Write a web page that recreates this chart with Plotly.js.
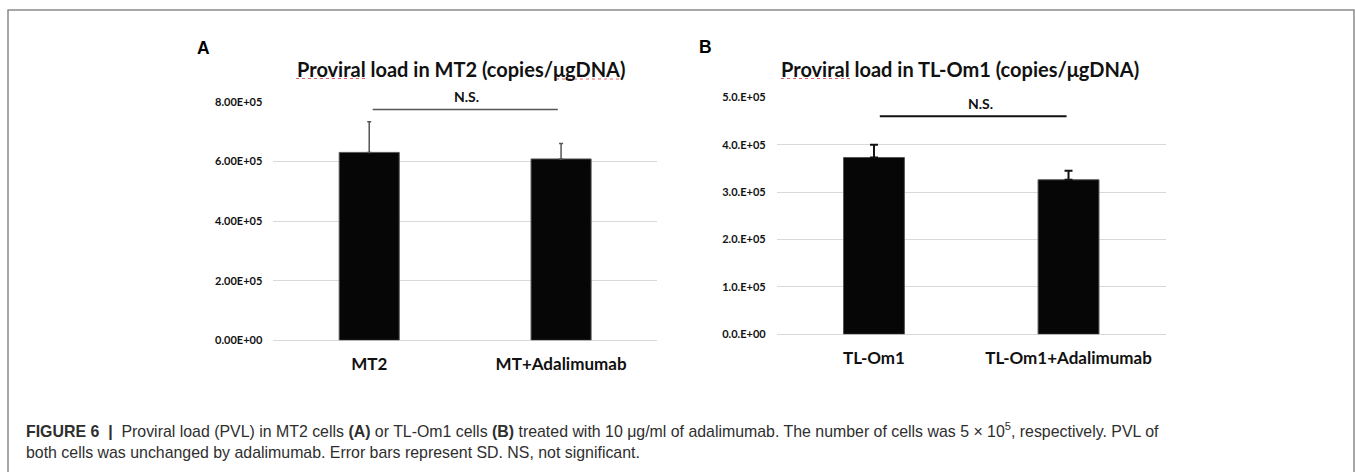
<!DOCTYPE html>
<html>
<head>
<meta charset="utf-8">
<script src="https://cdn.plot.ly/plotly-3.0.1.min.js"></script>
<style>html,body{margin:0;padding:0;background:#fff;}#chart{width:1355px;height:472px;}</style>
</head>
<body>
<div id="chart"></div>
<script>
// ---- data ----
const catsA = ['MT2', 'MT+Adalimumab'];
const pvlA = [6.30e5, 6.08e5];
const sdA = [1.03e5, 0.52e5];
const tickValsA = [0, 2e5, 4e5, 6e5, 8e5];
const tickTextA = ['0.00E+00', '2.00E+05', '4.00E+05', '6.00E+05', '8.00E+05'];

const catsB = ['TL-Om1', 'TL-Om1+Adalimumab'];
const pvlB = [3.73e5, 3.26e5];
const sdB = [0.27e5, 0.19e5];
const tickValsB = [0, 1e5, 2e5, 3e5, 4e5, 5e5];
const tickTextB = ['0.0.E+00', '1.0.E+05', '2.0.E+05', '3.0.E+05', '4.0.E+05', '5.0.E+05'];

const titleA = 'Proviral load in MT2 (copies/μgDNA)';
const titleB = 'Proviral load in TL-Om1 (copies/μgDNA)';
const sigLabel = 'N.S.';
const caption1 = '<b>FIGURE 6</b>  <b>|</b>  Proviral load (PVL) in MT2 cells <b>(A)</b> or TL-Om1 cells <b>(B)</b> treated with 10 μg/ml of adalimumab. The number of cells was 5 × 10<sup>5</sup>, respectively. PVL of';
const caption2 = 'both cells was unchanged by adalimumab. Error bars represent SD. NS, not significant.';

// ---- layout helpers ----
const W = 1355, H = 472;
const px = v => v / W;
const py = v => (H - v) / H;
const FONT = 'Lato, "Open Sans", sans-serif';

const traces = [
  {
    type: 'bar', x: catsA, y: pvlA, xaxis: 'x', yaxis: 'y',
    marker: {color: '#060606', line: {color: '#555', width: 1}},
    error_y: {type: 'data', array: sdA, arrayminus: [0, 0], symmetric: false, color: '#555', thickness: 1.5, width: 2},
    hoverinfo: 'skip', showlegend: false
  },
  {
    type: 'bar', x: catsB, y: pvlB, xaxis: 'x2', yaxis: 'y2',
    marker: {color: '#060606', line: {color: '#555', width: 1}},
    error_y: {type: 'data', array: sdB, arrayminus: [0, 0], symmetric: false, color: '#111', thickness: 2, width: 4},
    hoverinfo: 'skip', showlegend: false
  }
];

const xCommon = {
  type: 'category', range: [-0.5, 1.5], showgrid: false, zeroline: false, showline: false,
  ticks: '', ticklabelstandoff: 12,
  tickfont: {family: FONT, size: 17, weight: 'bold', color: '#111'}
};
const yCommon = {
  showgrid: true, gridcolor: '#d9d9d9', gridwidth: 1,
  zeroline: true, zerolinecolor: '#d9d9d9', zerolinewidth: 1.5, showline: false,
  ticks: '', ticklabelstandoff: 10,
  tickfont: {family: FONT, size: 11, weight: 'bold', color: '#111'}
};

function note(x, y, text, font, xanchor) {
  return {xref: 'paper', yref: 'paper', x: px(x), y: py(y), xanchor: xanchor || 'center', yanchor: 'middle',
          text: text, showarrow: false, font: font};
}

const titleFont = {family: FONT, size: 20, color: '#111'};
const sigFont = {family: FONT, size: 14, color: '#111'};
const panelFont = {family: 'Liberation Sans, Arial', size: 17.5, color: '#000'};
const capFont = {family: 'Liberation Sans, Arial', size: 15.9, color: '#2e2e2e'};

const layout = {
  width: W, height: H,
  margin: {l: 0, r: 0, t: 0, b: 0},
  paper_bgcolor: '#fff', plot_bgcolor: 'rgba(0,0,0,0)',
  bargap: 0.687,
  xaxis: Object.assign({}, xCommon, {domain: [px(273.3), px(657)], anchor: 'y'}),
  yaxis: Object.assign({}, yCommon, {domain: [py(340.3), py(101.7)], range: [0, 8e5], tickvals: tickValsA, ticktext: tickTextA, anchor: 'x'}),
  xaxis2: Object.assign({}, xCommon, {domain: [px(776.7), px(1165.8)], anchor: 'y2'}),
  yaxis2: Object.assign({}, yCommon, {domain: [py(334.3), py(97.3)], range: [0, 5e5], tickvals: tickValsB, ticktext: tickTextB, anchor: 'x2'}),
  shapes: [
    // figure frame
    {type: 'rect', xref: 'paper', yref: 'paper', x0: px(8), x1: px(1354), y0: -0.1, y1: py(10), line: {color: '#8a8a8a', width: 1.5}},
    // significance lines
    {type: 'line', xref: 'x', yref: 'y', x0: 0.018, x1: 0.983, y0: 7.74e5, y1: 7.74e5, line: {color: '#555', width: 1.5}},
    {type: 'line', xref: 'x2', yref: 'y2', x0: 0.03, x1: 0.99, y0: 4.60e5, y1: 4.60e5, line: {color: '#111', width: 2}},
    // spell-check squiggles under title words
    {type: 'line', xref: 'paper', yref: 'paper', x0: px(296), x1: px(366), y0: py(78.5), y1: py(78.5), line: {color: '#e06060', width: 1, dash: 'dot'}},
    {type: 'line', xref: 'paper', yref: 'paper', x0: px(556), x1: px(620), y0: py(79), y1: py(79), line: {color: '#e06060', width: 1, dash: 'dot'}},
    {type: 'line', xref: 'paper', yref: 'paper', x0: px(781), x1: px(852), y0: py(78.5), y1: py(78.5), line: {color: '#e06060', width: 1, dash: 'dot'}}
  ],
  annotations: [
    note(195, 47.5, '<b>A</b>', panelFont, 'left'),
    note(697, 47, '<b>B</b>', panelFont, 'left'),
    note(461, 69, '<b>' + titleA + '</b>', titleFont),
    note(960.5, 69, '<b>' + titleB + '</b>', titleFont),
    note(466.7, 96.5, '<b>' + sigLabel + '</b>', sigFont),
    note(980, 103.7, '<b>' + sigLabel + '</b>', sigFont),
    note(24, 430, caption1, capFont, 'left'),
    note(24, 452, caption2, capFont, 'left')
  ]
};

Plotly.newPlot('chart', traces, layout, {staticPlot: true, displayModeBar: false});
</script>
</body>
</html>
